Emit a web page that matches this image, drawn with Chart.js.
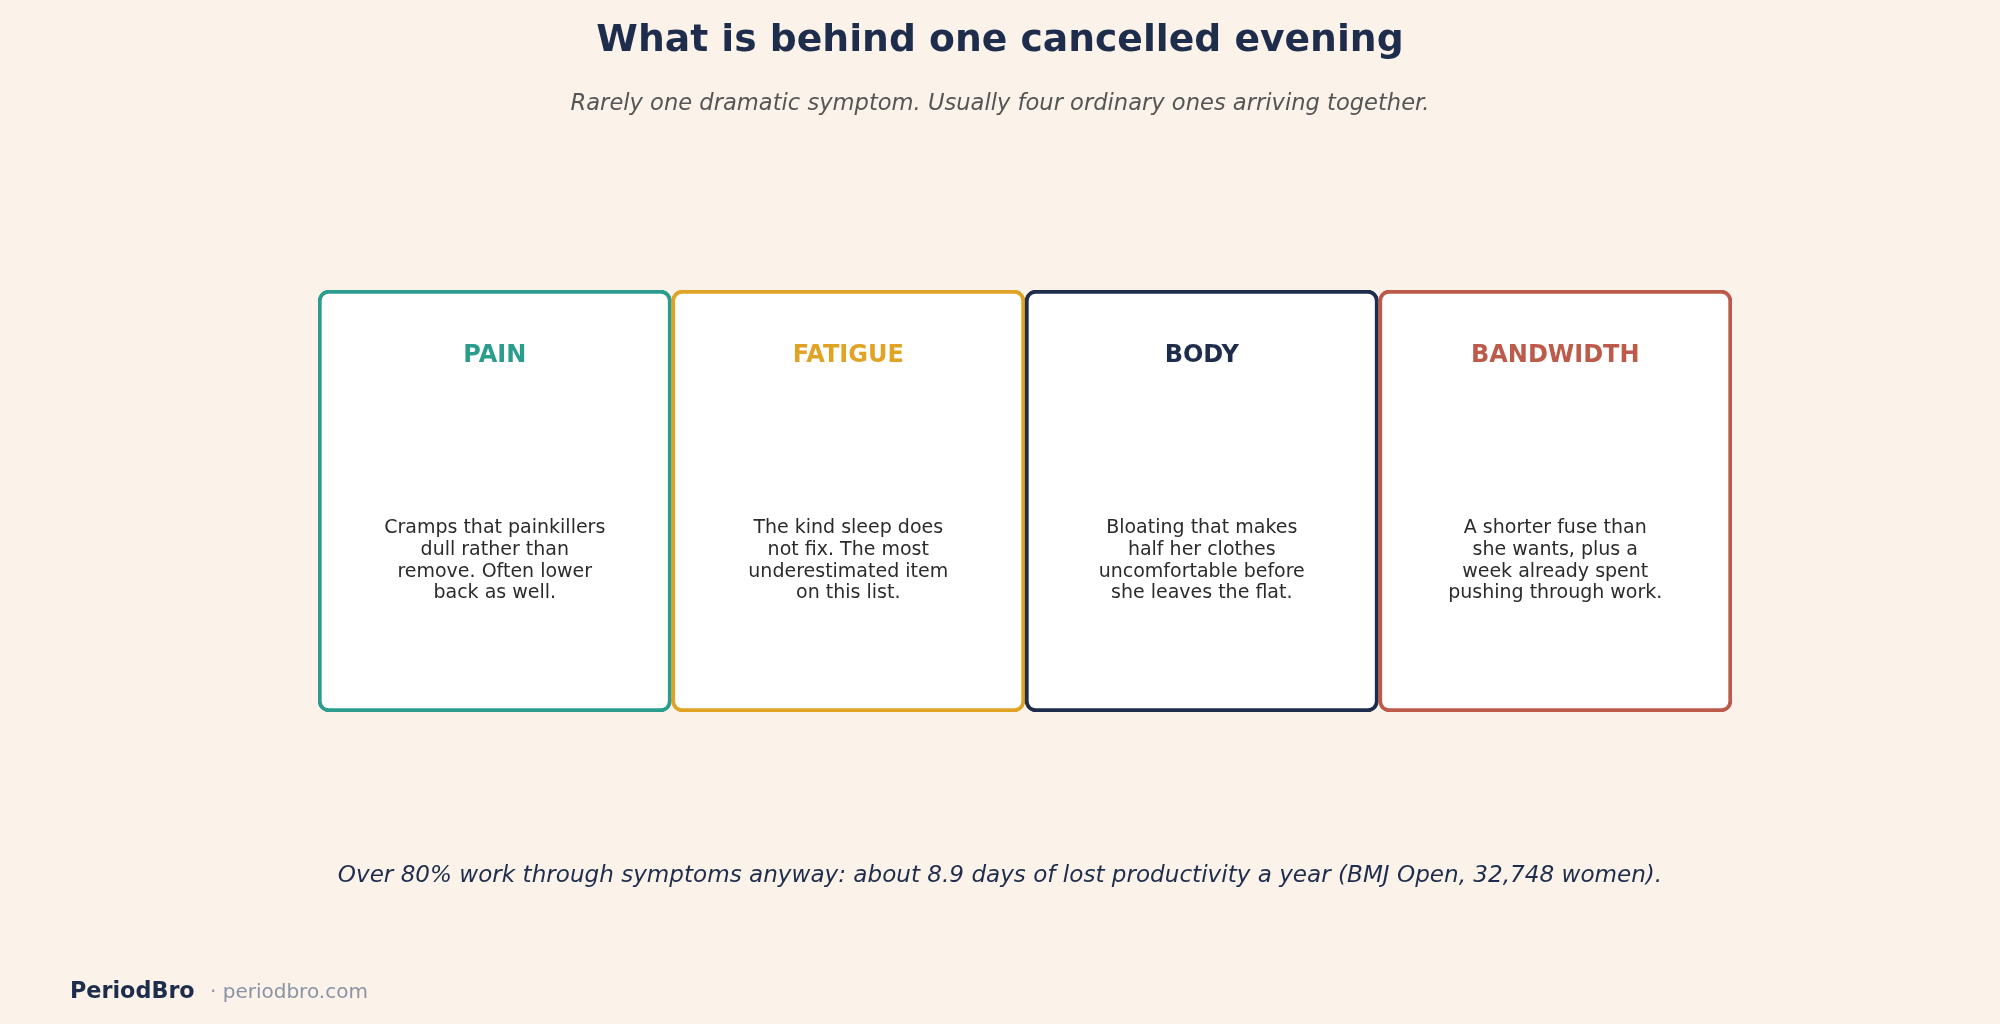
<!DOCTYPE html>
<html>
<head>
<meta charset="utf-8">
<script src="https://cdn.jsdelivr.net/npm/chart.js@4/dist/chart.umd.min.js"></script>
<style>
  html, body { margin: 0; padding: 0; background: #fbf3ea; }
  #wrap { width: 2000px; height: 1024px; position: relative; }
  canvas { display: block; }
</style>
</head>
<body>
<div id="wrap"><canvas id="c" width="2000" height="1024"></canvas></div>
<script>
// ---- data ----
const categories = ['PAIN', 'FATIGUE', 'BODY', 'BANDWIDTH'];
const cardSpan = [[0, 1], [0, 1], [0, 1], [0, 1]];
const cardColors = ['#2a9d8f', '#e1a324', '#1f2d4d', '#bd5b4b'];
const descriptions = [
  ['Cramps that painkillers', 'dull rather than', 'remove. Often lower', 'back as well.'],
  ['The kind sleep does', 'not fix. The most', 'underestimated item', 'on this list.'],
  ['Bloating that makes', 'half her clothes', 'uncomfortable before', 'she leaves the flat.'],
  ['A shorter fuse than', 'she wants, plus a', 'week already spent', 'pushing through work.']
];
const titleText = 'What is behind one cancelled evening';
const subtitleText = 'Rarely one dramatic symptom. Usually four ordinary ones arriving together.';
const footnoteText = 'Over 80% work through symptoms anyway: about 8.9 days of lost productivity a year (BMJ Open, 32,748 women).';
const brandText = 'PeriodBro';
const brandUrl = '\u00b7 periodbro.com';

const FONT = '"DejaVu Sans", Verdana, sans-serif';

const textPlugin = {
  id: 'cardText',
  afterDatasetsDraw(chart) {
    const ctx = chart.ctx;
    const meta = chart.getDatasetMeta(0);
    const y = chart.scales.y;
    ctx.save();
    ctx.textAlign = 'center';
    ctx.textBaseline = 'alphabetic';
    meta.data.forEach((bar, i) => {
      const cx = bar.x;
      ctx.fillStyle = cardColors[i];
      ctx.font = 'bold 24px ' + FONT;
      ctx.fillText(categories[i], cx, y.getPixelForValue(0.8507) + 9);
      ctx.fillStyle = '#2b2b2b';
      ctx.font = '19px ' + FONT;
      const lines = descriptions[i];
      const lh = 21.7;
      const base0 = 533.3;
      lines.forEach((ln, k) => ctx.fillText(ln, cx, base0 + k * lh));
    });
    ctx.restore();
  },
  afterDraw(chart) {
    const ctx = chart.ctx;
    ctx.save();
    ctx.textAlign = 'center';
    ctx.textBaseline = 'alphabetic';
    ctx.fillStyle = '#1f2d4d';
    ctx.font = 'bold 37.7px ' + FONT;
    ctx.fillText(titleText, 1000, 51);
    ctx.fillStyle = '#555555';
    ctx.font = 'italic 22.6px ' + FONT;
    ctx.fillText(subtitleText, 1000, 110);
    ctx.fillStyle = '#1f2d4d';
    ctx.font = 'italic 23.1px ' + FONT;
    ctx.fillText(footnoteText, 1000, 882);
    ctx.textAlign = 'left';
    ctx.font = 'bold 22.3px ' + FONT;
    ctx.fillStyle = '#1f2d4d';
    ctx.fillText(brandText, 70, 998);
    ctx.font = '20px ' + FONT;
    ctx.fillStyle = '#8a93a6';
    ctx.fillText(brandUrl, 210, 998);
    ctx.restore();
  }
};

const bgPlugin = {
  id: 'bg',
  beforeDraw(chart) {
    const ctx = chart.ctx;
    ctx.save();
    ctx.fillStyle = '#fbf3ea';
    ctx.fillRect(0, 0, chart.width, chart.height);
    ctx.restore();
  }
};

new Chart(document.getElementById('c'), {
  type: 'bar',
  data: {
    labels: categories,
    datasets: [{
      data: cardSpan,
      backgroundColor: '#ffffff',
      borderColor: cardColors,
      borderWidth: 4,
      borderRadius: 11,
      borderSkipped: false,
      barPercentage: 1.0,
      categoryPercentage: 1.0
    }]
  },
  options: {
    responsive: false,
    animation: false,
    devicePixelRatio: 1,
    layout: { padding: { left: 318, right: 268, top: 290, bottom: 312 } },
    plugins: { legend: { display: false }, tooltip: { enabled: false }, title: { display: false } },
    scales: {
      x: { display: false, offset: true },
      y: { display: false, min: 0, max: 1 }
    }
  },
  plugins: [bgPlugin, textPlugin]
});
</script>
</body>
</html>
